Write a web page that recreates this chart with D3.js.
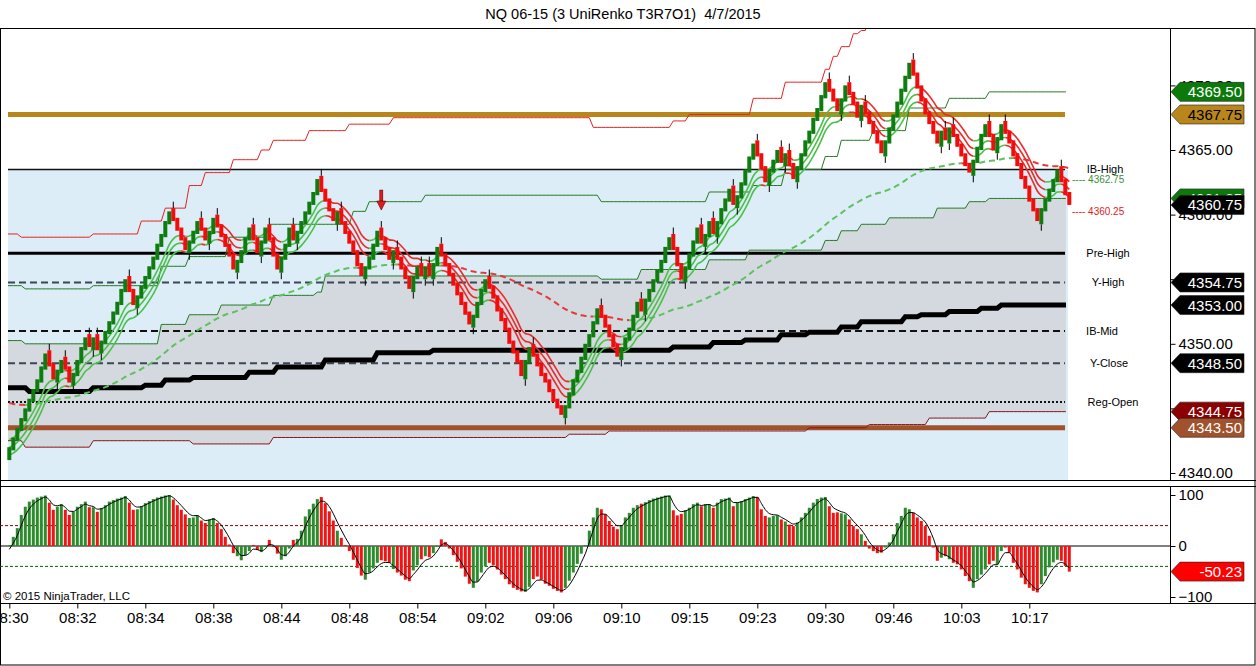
<!DOCTYPE html>
<html><head><meta charset="utf-8">
<script src="https://cdn.jsdelivr.net/npm/d3@7/dist/d3.min.js"></script>
<style>
html,body{margin:0;padding:0;background:#fff;}
svg{display:block;font-family:"Liberation Sans",Arial,sans-serif;}
</style></head><body>
<svg id="c" width="1256" height="666"></svg>
<script>
// ---------------- DATA ----------------
const title = "NQ 06-15 (3 UniRenko T3R7O1)  4/7/2015";

// UniRenko bar closes (one per bar)
const closes = [
4342.0,4342.75,4343.5,4344.25,4345.0,4345.75,4346.5,4347.25,4348.25,4349.25,
4348.25,4347.25,4348.0,4348.75,4348.0,4347.0,4347.75,4348.75,4349.75,4350.5,
4349.75,4350.5,4349.5,4350.25,4351.0,4351.75,4352.5,4353.25,4354.25,4355.0,
4354.0,4353.0,4353.75,4354.5,4355.25,4356.0,4356.75,4357.75,4358.5,4359.5,
4360.25,4359.5,4358.75,4358.0,4357.25,4358.0,4358.75,4359.5,4358.75,4358.0,
4358.75,4359.75,4359.0,4358.25,4357.5,4356.75,4355.75,4356.5,4357.25,4358.25,
4359.0,4358.0,4357.0,4358.0,4359.0,4358.0,4356.75,4355.75,4356.75,4357.75,
4359.0,4358.0,4358.75,4359.5,4360.25,4361.0,4361.75,4362.75,4361.75,4361.0,
4360.25,4359.5,4360.25,4359.25,4358.5,4357.75,4357.0,4356.0,4355.25,4356.0,
4356.75,4357.75,4358.75,4358.0,4357.25,4356.5,4357.25,4356.5,4355.75,4355.0,
4354.25,4355.25,4356.0,4355.25,4356.0,4355.25,4356.25,4357.5,4356.75,4356.0,
4355.25,4354.5,4353.75,4353.0,4352.25,4351.5,4352.25,4353.25,4354.25,4355.0,
4354.25,4353.5,4352.5,4351.75,4351.0,4350.0,4349.25,4348.5,4347.5,4348.75,
4349.75,4349.0,4348.25,4347.5,4347.0,4346.25,4345.5,4345.0,4344.5,4345.25,
4346.25,4347.25,4348.0,4349.0,4350.0,4350.75,4351.75,4352.75,4352.0,4351.25,
4350.5,4349.75,4349.0,4349.75,4350.5,4351.25,4352.25,4353.25,4352.5,4353.5,
4354.25,4355.0,4355.75,4356.5,4357.5,4358.25,4357.25,4356.0,4355.0,4356.0,
4357.0,4358.0,4359.0,4357.75,4358.5,4359.5,4358.5,4359.5,4360.5,4361.25,
4362.0,4360.75,4361.5,4362.5,4363.5,4364.5,4365.5,4364.5,4363.5,4362.5,
4363.5,4364.25,4365.0,4364.0,4364.75,4363.75,4362.75,4363.75,4364.75,4365.75,
4366.5,4367.5,4368.25,4369.25,4370.25,4369.5,4368.75,4368.0,4369.0,4370.0,
4369.25,4368.5,4367.5,4368.5,4367.75,4367.0,4366.25,4365.5,4364.75,4365.75,
4366.75,4367.75,4368.75,4369.75,4370.75,4371.75,4370.75,4369.75,4368.75,4367.75,
4367.0,4366.25,4365.5,4366.5,4365.75,4366.75,4366.0,4365.25,4364.5,4363.75,
4363.25,4364.25,4365.25,4366.25,4367.0,4366.0,4365.0,4366.0,4367.0,4366.25,
4365.5,4364.5,4363.75,4362.75,4362.0,4361.0,4360.25,4359.5,4360.5,4361.25,
4362.0,4362.75,4363.5,4362.5,4361.5,4360.75
];

// oscillator histogram (one per bar)
const histValues = [
2,18,35,61,77,87,91,95,97,99,
85,71,77,82,71,61,67,77,82,87,
76,76,67,74,80,87,90,93,95,98,
85,71,72,78,84,88,92,95,97,99,
100,91,80,71,62,55,56,60,50,45,
52,55,45,33,18,3,-14,-20,-28,-18,
-10,2,-8,-12,-2,12,0,-15,-27,-20,
-5,12,14,30,58,72,83,92,96,84,
68,50,30,16,2,-10,-27,-43,-58,-66,
-52,-44,-33,-28,-30,-33,-45,-52,-58,-66,
-69,-48,-38,-26,-20,-22,-14,0,13,8,
-5,-18,-31,-44,-60,-74,-82,-70,-52,-40,
-33,-38,-46,-56,-65,-75,-82,-86,-89,-90,
-80,-65,-60,-66,-74,-78,-84,-88,-91,-82,
-68,-52,-35,-15,2,30,56,75,72,62,
49,38,33,39,56,65,75,80,83,86,
90,93,95,97,99,99,70,60,63,70,
75,82,85,78,82,82,75,85,92,93,
95,78,85,88,92,95,98,96,72,59,
56,59,60,52,48,42,39,46,56,65,
75,85,92,95,96,78,65,66,64,62,
52,39,33,23,10,-5,-10,-14,-13,-3,
7,23,45,59,75,72,65,56,49,39,
20,-3,-29,-23,-20,-26,-33,-36,-46,-59,
-69,-82,-65,-56,-46,-36,-29,-36,-10,-3,
-13,-33,-46,-62,-75,-82,-88,-91,-75,-59,
-42,-32,-27,-29,-39,-50.23
];

const timeLabels = ["08:30","08:32","08:34","08:38","08:44","08:48","08:54","09:02","09:06","09:10","09:15","09:23","09:30","09:46","10:03","10:17"];
const timeLabelBars = [0,17,34,51,68,85,102,119,136,153,170,187,204,221,238,255];

// stepped indicator lines: [bar where step starts, value]
const vwapSteps = [[0,4346.6],[5,4346.3],[21,4346.6],[34,4346.8],[39,4347.2],[46,4347.4],[60,4347.8],[67,4348.2],[79,4348.75],[92,4349.3],[106,4349.5],[166,4349.75],[176,4350.1],[184,4350.3],[193,4350.7],[200,4350.9],[208,4351.3],[213,4351.7],[224,4352.1],[228,4352.25],[235,4352.5],[243,4352.75],[248,4353.0]];
const upperRedSteps = [[0,4358.5],[3,4358.25],[21,4358.5],[33,4359.5],[39,4360.5],[45,4362.25],[49,4363.25],[56,4364.25],[63,4365.0],[66,4365.75],[75,4366.5],[85,4367.0],[96,4367.5],[146,4366.75],[166,4367.25],[170,4367.75],[186,4369.0],[194,4370.25],[204,4371.25],[206,4372.25],[208,4373.0],[211,4374.0],[213,4374.25],[215,4375.5],[225,4377.0]];
const upperGreenSteps = [[0,4354.5],[4,4354.25],[21,4354.5],[38,4356.0],[45,4356.75],[55,4358.25],[65,4359.25],[86,4360.25],[90,4361.0],[104,4361.5],[148,4361.0],[175,4361.75],[186,4362.25],[194,4363.5],[204,4364.5],[208,4365.75],[216,4366.5],[225,4368.25],[235,4369.0],[245,4369.5]];
const lowerGreenSteps = [[0,4350.25],[4,4350.0],[38,4351.5],[45,4352.25],[53,4353.0],[66,4353.75],[77,4354.0],[79,4355.25],[148,4355.0],[158,4355.75],[175,4356.5],[185,4357.25],[204,4358.0],[208,4358.75],[213,4359.25],[220,4359.75],[232,4360.5],[240,4361.0],[245,4361.25]];
const lowerRedSteps = [[0,4342.5],[4,4342.0],[21,4342.5],[46,4342.25],[66,4342.75],[140,4343.0],[150,4343.25],[200,4343.5],[215,4343.75],[230,4344.25],[245,4344.75]];

// horizontal levels
const levelNames = ["IB-High","Pre-High","Y-High","IB-Mid","Y-Close","Reg-Open"];
const levelValues = [4363.5,4357.0,4354.75,4351.0,4348.5,4345.5];
const bandValues = [4367.75,4343.5];

const annotValues = [4362.75,4360.25];
const priceTicks = [4340,4345,4350,4355,4360,4365,4370];
const flagValues = [4369.50,4361.25,4360.75,4367.75,4354.75,4353.00,4348.50,4344.75,4343.50];
const oscTicks = [-100,0,100];
const oscLevels = [40,-40];
const oscLast = -50.23;
const arrowBar = 93;
const emaSeed = 4345.5;

// ---------------- STYLE ----------------
const flagFills = ["#0b7a0b","#0b7a0b","#000000","#b8861b","#000000","#000000","#000000","#8b0000","#a0522d"];
const flagText  = ["#fff","#fff","#fff","#000","#fff","#fff","#fff","#fff","#fff"];
const levelStyles = [
  {w:1.5,c:"#111",d:null},
  {w:3,c:"#000",d:null},
  {w:2,c:"#3b4755",d:"7,4"},
  {w:2,c:"#111",d:"7,4"},
  {w:2,c:"#3b4755",d:"7,4"},
  {w:2,c:"#111",d:"2,2"}
];
const levelLabelX = [1105,1108,1108,1102,1109,1113];
const bandColors = ["#b8861b","#a0522d"];

// ---------------- GEOMETRY ----------------
const N = closes.length;
const svg = d3.select("#c");
const mainTop=28, mainBot=480, oscTop=486, oscBot=603, axisX=1170;
const plotL=8, plotR=1068;
const xBar = d3.scaleLinear().domain([0,265]).range([9.3,1069.3]);
const yMain = d3.scaleLinear().domain([4340,4365]).range([473,150]);
const yOsc = d3.scaleLinear().domain([-100,100]).range([597,495]);

function expand(steps){
  const out=[]; let k=0;
  for(let i=0;i<N;i++){ while(k+1<steps.length && steps[k+1][0]<=i) k++; out.push(steps[k][1]); }
  return out;
}
function xAt(i){ return i===0?plotL:(i===N-1?plotR-2:xBar(i)); }
function ema(arr,period,seed){
  const a=2/(period+1); const out=[]; let v=seed;
  for(let i=0;i<arr.length;i++){ v = v + a*(arr[i]-v); out.push(v);} return out;
}

const defs = svg.append("defs");
defs.append("clipPath").attr("id","clipMain").append("rect").attr("x",0).attr("y",mainTop).attr("width",axisX).attr("height",mainBot-mainTop);
defs.append("clipPath").attr("id","clipOsc").append("rect").attr("x",0).attr("y",oscTop).attr("width",axisX).attr("height",oscBot-oscTop);

// title
svg.append("text").attr("x",623).attr("y",19).attr("text-anchor","middle").attr("font-size",14.5).attr("fill","#000")
  .style("white-space","pre").attr("xml:space","preserve").text(title);

const g = svg.append("g").attr("clip-path","url(#clipMain)");

// light blue zone from IB-High down
g.append("rect").attr("x",plotL).attr("y",yMain(levelValues[0])).attr("width",plotR-plotL).attr("height",mainBot-yMain(levelValues[0])).attr("fill","#dcedf8");

const idx = d3.range(N);
const lowerGreen = expand(lowerGreenSteps), lowerRed = expand(lowerRedSteps);
const upperGreen = expand(upperGreenSteps), upperRed = expand(upperRedSteps);
const vwap = expand(vwapSteps);

// gray zone
g.append("path").datum(idx).attr("fill","#d4d8df")
  .attr("d", d3.area().x(i=>xAt(i)).y0(i=>yMain(lowerRed[i])).y1(i=>yMain(lowerGreen[i])));

// level lines
levelValues.forEach((v,k)=>{
  const s=levelStyles[k];
  const ln = g.append("line").attr("x1",plotL).attr("x2",plotR-3).attr("y1",yMain(v)).attr("y2",yMain(v))
    .attr("stroke",s.c).attr("stroke-width",s.w);
  if(s.d) ln.attr("stroke-dasharray",s.d);
});
bandValues.forEach((v,k)=>{
  g.append("line").attr("x1",plotL).attr("x2",plotR-3).attr("y1",yMain(v)).attr("y2",yMain(v))
   .attr("stroke",bandColors[k]).attr("stroke-width",5);
});

// step lines
const stepLine = d3.line().x(i=>xAt(i));
function drawStep(vals,color,w){
  g.append("path").datum(idx).attr("fill","none").attr("stroke",color).attr("stroke-width",w)
   .attr("d", stepLine.y(i=>yMain(vals[i])));
}
drawStep(upperRed,"#e3231f",1);
drawStep(upperGreen,"#237a23",1);
drawStep(lowerGreen,"#237a23",1);
drawStep(lowerRed,"#8b1414",1);
drawStep(vwap,"#000",5);

// lines coloured by the slope of a reference series
function drawSlopeLine(vals,ref,up,down,w,dash){
  let runStart=0;
  const runs=[];
  let cur = ref[1]>=ref[0];
  for(let i=1;i<N;i++){
    const c = ref[i]>=ref[i-1];
    if(c!==cur){ runs.push([runStart,i-1,cur]); runStart=i-1; cur=c; }
  }
  runs.push([runStart,N-1,cur]);
  runs.forEach(r=>{
    const pts=d3.range(r[0],r[1]+1);
    const p=g.append("path").datum(pts).attr("fill","none").attr("stroke",r[2]?up:down)
      .attr("stroke-width",w).attr("stroke-linejoin","round")
      .attr("d", d3.line().x(i=>xBar(i)).y(i=>yMain(vals[i])).curve(d3.curveMonotoneX));
    if(dash) p.attr("stroke-dasharray",dash);
  });
}
const slow = ema(closes,80,emaSeed);
drawSlopeLine(slow,slow,"#5cc25c","#e33b3b",2,"6,4");
const fast = ema(closes,10,closes[0]);
[-0.6,0,0.6].forEach(o=>{
  drawSlopeLine(fast.map(v=>v+o),fast,"#4cc04c","#ec2a2a",1.6,null);
});

// bricks
const GREEN="#0e7c0e", RED="#f20d0d";
const dirs = closes.map((c,i)=> i===0 ? 1 : (c>=closes[i-1]?1:-1));
const gb = g.append("g");
idx.forEach(i=>{
  const c=closes[i], d=dirs[i];
  const prev = i===0 ? c-0.75 : closes[i-1];
  const open = prev - d*0.25;
  const cx = xBar(i);
  if(i>0 && dirs[i-1]!==d){
    const ext = prev + (-d)*0.75;
    gb.append("line").attr("x1",cx).attr("x2",cx).attr("y1",yMain(open)).attr("y2",yMain(ext)).attr("stroke","#000").attr("stroke-width",1);
  }
  const y1=yMain(Math.max(open,c)), y2=yMain(Math.min(open,c));
  gb.append("rect").attr("x",cx-2).attr("y",y1).attr("width",4).attr("height",y2-y1).attr("fill",d>0?GREEN:RED);
});

// arrow
{
  const ax=xBar(arrowBar);
  const ay=yMain(closes[arrowBar-1]+1.6);
  g.append("rect").attr("x",ax-1.5).attr("y",ay-20).attr("width",3).attr("height",11).attr("fill","#e31a1a").attr("stroke","#5a0000").attr("stroke-width",0.6);
  g.append("path").attr("d",`M${ax-4.5},${ay-9}L${ax+4.5},${ay-9}L${ax},${ay}Z`).attr("fill","#e31a1a").attr("stroke","#5a0000").attr("stroke-width",0.6);
}

// level labels
levelValues.forEach((v,k)=>{
  svg.append("text").attr("x",levelLabelX[k]).attr("y",yMain(v)+4).attr("text-anchor","middle").attr("font-size",11).attr("fill","#000").text(levelNames[k]);
});
svg.append("text").attr("x",1072).attr("y",yMain(annotValues[0])+4).attr("font-size",10).attr("fill","#3a8f3a").text("---- "+annotValues[0].toFixed(2));
svg.append("text").attr("x",1072).attr("y",yMain(annotValues[1])+4).attr("font-size",10).attr("fill","#e02020").text("---- "+annotValues[1].toFixed(2));

// frames
const fr = svg.append("g").attr("fill","none").attr("stroke","#000").attr("stroke-width",1);
fr.append("rect").attr("x",0.5).attr("y",mainTop+0.5).attr("width",1254.5).attr("height",665-mainTop-0.5);
fr.append("line").attr("x1",0).attr("x2",1256).attr("y1",mainBot+0.5).attr("y2",mainBot+0.5);
fr.append("line").attr("x1",0).attr("x2",1256).attr("y1",oscTop+0.5).attr("y2",oscTop+0.5);
fr.append("line").attr("x1",0).attr("x2",1256).attr("y1",oscBot+0.5).attr("y2",oscBot+0.5);
fr.append("line").attr("x1",axisX+0.5).attr("x2",axisX+0.5).attr("y1",mainTop).attr("y2",mainBot);
fr.append("line").attr("x1",axisX+0.5).attr("x2",axisX+0.5).attr("y1",oscTop).attr("y2",oscBot);

// price axis
const pa = svg.append("g").attr("transform",`translate(${axisX+0.5},0)`)
  .call(d3.axisRight(yMain).tickValues(priceTicks).tickFormat(d3.format(".2f")).tickSize(5).tickPadding(3));
pa.select(".domain").remove();
pa.selectAll("text").attr("font-size",15).attr("font-family","'Liberation Sans',Arial,sans-serif").attr("fill","#000");
pa.selectAll("line").attr("stroke","#000");

// flags
function flag(y,fill,tcol,txt){
  const gg=svg.append("g");
  gg.append("path").attr("d",`M${axisX+1},${y}L${axisX+10},${y-9.5}L1244,${y-9.5}L1244,${y+9.5}L${axisX+10},${y+9.5}Z`)
    .attr("fill",fill).attr("stroke","#222").attr("stroke-width",0.6);
  gg.append("text").attr("x",1242).attr("y",y+5.5).attr("text-anchor","end").attr("font-size",15).attr("fill",tcol).text(txt);
}
flagValues.forEach((v,k)=>flag(yMain(v),flagFills[k],flagText[k],v.toFixed(2)));

// ---------------- OSCILLATOR ----------------
const go = svg.append("g").attr("clip-path","url(#clipOsc)");
go.append("line").attr("x1",0).attr("x2",axisX).attr("y1",yOsc(0)).attr("y2",yOsc(0)).attr("stroke","#000").attr("stroke-width",1);
go.append("line").attr("x1",0).attr("x2",axisX).attr("y1",yOsc(oscLevels[0])).attr("y2",yOsc(oscLevels[0])).attr("stroke","#8b0000").attr("stroke-width",1).attr("stroke-dasharray","3,2");
go.append("line").attr("x1",0).attr("x2",axisX).attr("y1",yOsc(oscLevels[1])).attr("y2",yOsc(oscLevels[1])).attr("stroke","#006400").attr("stroke-width",1).attr("stroke-dasharray","3,2");
idx.forEach(i=>{
  const v=histValues[i]; const y0=yOsc(0), y1=yOsc(v);
  go.append("rect").attr("x",xBar(i)-1.5).attr("y",Math.min(y0,y1)).attr("width",3).attr("height",Math.max(1,Math.abs(y1-y0)))
    .attr("fill",dirs[i]>0?"#2e8b2e":"#f01414");
});
const sig=[]; { let s=-15; histValues.forEach(h=>{ s = s+0.5*(h-s); sig.push(s); }); }
go.append("path").datum(idx).attr("fill","none").attr("stroke","#000").attr("stroke-width",1)
  .attr("d", d3.line().x(i=>xBar(i)).y(i=>yOsc(sig[i])).curve(d3.curveMonotoneX));

const oa = svg.append("g").attr("transform",`translate(${axisX+0.5},0)`)
  .call(d3.axisRight(yOsc).tickValues(oscTicks).tickSize(5).tickPadding(3));
oa.select(".domain").remove();
oa.selectAll("text").attr("font-size",15).attr("font-family","'Liberation Sans',Arial,sans-serif").attr("fill","#000");
flag(yOsc(oscLast),"#ff0000","#fff",oscLast.toFixed(2));

svg.append("text").attr("x",3).attr("y",600).attr("font-size",11.5).attr("fill","#000").text("\u00a9 2015 NinjaTrader, LLC");

// time axis
const ta = svg.append("g").attr("transform",`translate(0,${oscBot+0.5})`)
  .call(d3.axisBottom(xBar).tickValues(timeLabelBars).tickFormat((d,i)=>timeLabels[i]).tickSize(5).tickPadding(4));
ta.select(".domain").remove();
ta.selectAll("text").attr("font-size",15).attr("font-family","'Liberation Sans',Arial,sans-serif").attr("fill","#000");
</script>
</body></html>
